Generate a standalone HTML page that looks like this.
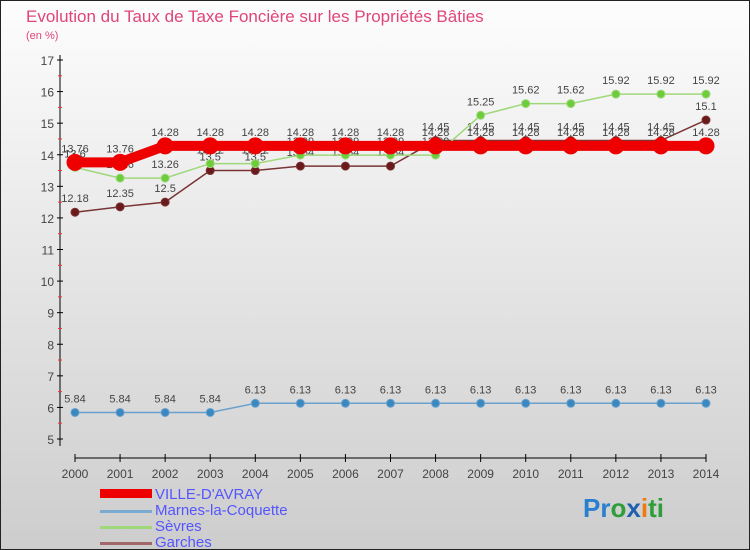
<!DOCTYPE html>
<html><head><meta charset="utf-8"><style>
body{margin:0;width:750px;height:550px;overflow:hidden;font-family:"Liberation Sans",sans-serif}
svg{display:block}
</style></head><body>
<svg id="c" width="750" height="550">
<defs><linearGradient id="bg" x1="0" y1="0" x2="0" y2="1"><stop offset="0" stop-color="#fdfdfd"/><stop offset="1" stop-color="#cdcdcd"/></linearGradient></defs>
<rect x="0.5" y="0.5" width="749" height="549" fill="url(#bg)" stroke="#222"/>
<text x="26" y="22" font-size="17" fill="#e0457a">Evolution du Taux de Taxe Foncière sur les Propriétés Bâties</text>
<text x="26" y="39" font-size="11" fill="#e0457a">(en %)</text>
<g id="axes"></g><g id="series"></g>
<g font-size="15" fill="#5555ff">
<rect x="100" y="489" width="52" height="9" fill="#e00"/>
<text x="155" y="499">VILLE-D'AVRAY</text>
<rect x="100" y="510" width="52" height="3" fill="#7aaad0"/>
<text x="155" y="515">Marnes-la-Coquette</text>
<rect x="100" y="526" width="52" height="3" fill="#9fd87a"/>
<text x="155" y="531">Sèvres</text>
<rect x="100" y="542" width="52" height="3" fill="#a06868"/>
<text x="155" y="547">Garches</text>
</g>
<text x="583" y="517" font-size="26" font-weight="bold"><tspan fill="#2a7fd0">Pr</tspan><tspan fill="#2f9e3a">o</tspan><tspan fill="#1f5fb0">x</tspan><tspan fill="#f07a10">i</tspan><tspan fill="#2f9e3a">ti</tspan></text>
</svg>
<script>
const years=[2000,2001,2002,2003,2004,2005,2006,2007,2008,2009,2010,2011,2012,2013,2014];
const yTicks=[5,6,7,8,9,10,11,12,13,14,15,16,17];
const ville=[13.76,13.76,14.28,14.28,14.28,14.28,14.28,14.28,14.28,14.28,14.28,14.28,14.28,14.28,14.28];
const marnes=[5.84,5.84,5.84,5.84,6.13,6.13,6.13,6.13,6.13,6.13,6.13,6.13,6.13,6.13,6.13];
const sevres=[13.6,13.26,13.26,13.72,13.72,13.99,13.99,13.99,13.99,15.25,15.62,15.62,15.92,15.92,15.92];
const garches=[12.18,12.35,12.5,13.5,13.5,13.64,13.64,13.64,14.45,14.45,14.45,14.45,14.45,14.45,15.1];
const NS="http://www.w3.org/2000/svg";
const xs=i=>75+i*(706-75)/14;
const ys=v=>439-(v-5)*(439-60)/12;
function mk(t,a,p){const e=document.createElementNS(NS,t);for(const k in a)e.setAttribute(k,a[k]);p.appendChild(e);return e;}
const ax=document.getElementById('axes');
const yl=mk('line',{x1:60,y1:55,x2:60,y2:446,stroke:'#000'},ax);


const xl=mk('line',{x1:75,y1:458,x2:706,y2:458,stroke:'#000'},ax);


yTicks.forEach(v=>{const y=ys(v);
mk('line',{x1:57,y1:y,x2:63,y2:y,stroke:'#000'},ax);
if(v<17)mk('line',{x1:58,y1:y-15.8,x2:62,y2:y-15.8,stroke:'#e33'},ax);
const t=mk('text',{x:54,y:y+5,'text-anchor':'end','font-size':12,fill:'#444'},ax);t.textContent=v;

});
years.forEach((yr,i)=>{const x=xs(i);mk('line',{x1:x,y1:454,x2:x,y2:462,stroke:'#000'},ax);
const t=mk('text',{x:x,y:478,'text-anchor':'middle','font-size':12,fill:'#444'},ax);t.textContent=yr;

});
const sg=document.getElementById('series');
function draw(name,vals,color,w,r,dot){
const g=mk('g',{},sg);


mk('polyline',{points:vals.map((v,i)=>xs(i)+','+ys(v)).join(' '),fill:'none',stroke:color,'stroke-width':w},g);
vals.forEach((v,i)=>{const c=mk('circle',{cx:xs(i),cy:ys(v),r:r,fill:dot,stroke:color,'stroke-width':1},g);


const t=mk('text',{x:xs(i),y:ys(v)-10,'text-anchor':'middle','font-size':11,fill:'#444'},g);t.textContent=v;

});}
draw('garches',garches,'#7a3434',1.5,4,'#6a1a1a');
draw('sevres',sevres,'#9fd87a',1.5,4,'#6ccc3c');
draw('ville-d-avray',ville,'#e00',10,8,'#e00');
draw('marnes',marnes,'#6aa0cc',1.5,4,'#3a88c0');
</script>
</body></html>
